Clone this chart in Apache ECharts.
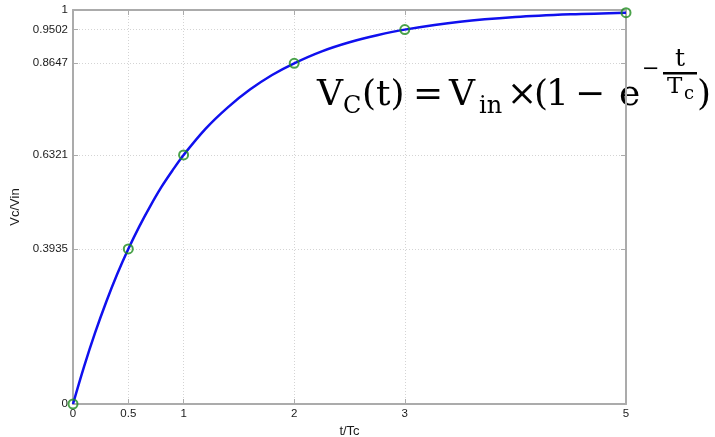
<!DOCTYPE html>
<html>
<head>
<meta charset="utf-8">
<script src="https://cdn.jsdelivr.net/npm/echarts@6/dist/echarts.min.js"></script>
<style>
  html, body { margin: 0; padding: 0; background: #fff; }
  #chart { width: 715px; height: 437px; }
</style>
</head>
<body>
<div id="chart"></div>
<script>
// Normalised time t/Tc and capacitor voltage Vc/Vin along the charging curve
const curveT = [0, 0.1, 0.2, 0.3, 0.4, 0.5, 0.6, 0.7, 0.8, 0.9, 1, 1.2, 1.4, 1.6, 1.8, 2, 2.25, 2.5, 2.75, 3, 3.5, 4, 4.5, 5];
const curveV = [0, 0.095, 0.181, 0.259, 0.330, 0.3935, 0.451, 0.503, 0.551, 0.593, 0.6321, 0.699, 0.753, 0.798, 0.835, 0.8647, 0.895, 0.918, 0.936, 0.9502, 0.970, 0.982, 0.989, 0.9933];

// Marked points on the curve
const markT = [0, 0.5, 1, 2, 3, 5];
const markV = [0, 0.3935, 0.6321, 0.8647, 0.9502, 0.9933];

// Axis ticks and their labels
const xTicks = [0, 0.5, 1, 2, 3, 5];
const xTickLabels = ['0', '0.5', '1', '2', '3', '5'];
const yTicks = [0, 0.3935, 0.6321, 0.8647, 0.9502, 1];
const yTickLabels = ['0', '0.3935', '0.6321', '0.8647', '0.9502', '1'];

const chart = echarts.init(document.getElementById('chart'), null, { renderer: 'canvas' });

const AXIS_GREY = '#ababab';
const GRID_GREY = '#d4d4d4';
const LABEL_FONT = 'Liberation Sans, Arial, sans-serif';

function labelFor(ticks, labels) {
  return function (v) {
    for (let i = 0; i < ticks.length; i++) {
      if (Math.abs(ticks[i] - v) < 1e-9) return labels[i];
    }
    return '';
  };
}

function makeAxis(kind, position, withLabels) {
  const ticks = kind === 'x' ? xTicks : yTicks;
  const labels = kind === 'x' ? xTickLabels : yTickLabels;
  return {
    type: 'value',
    position: position,
    min: 0,
    max: kind === 'x' ? 5 : 1,
    axisLine: { show: true, onZero: false, lineStyle: { color: AXIS_GREY, width: 2 } },
    axisTick: { show: true, inside: true, length: 5, customValues: ticks, lineStyle: { color: AXIS_GREY, width: 1 } },
    axisLabel: {
      show: withLabels,
      customValues: ticks,
      formatter: labelFor(ticks, labels),
      color: '#1a1a1a',
      fontFamily: LABEL_FONT,
      fontSize: 11.5,
      margin: kind === 'x' ? 4 : 5,
      hideOverlap: false
    },
    splitLine: {
      show: withLabels,
      lineStyle: { color: GRID_GREY, type: [1, 2], width: 1 }
    }
  };
}

const xBottom = makeAxis('x', 'bottom', true);
xBottom.name = 't/Tc';
xBottom.nameLocation = 'middle';
xBottom.nameGap = 17;
xBottom.nameTextStyle = { color: '#1a1a1a', fontFamily: LABEL_FONT, fontSize: 13 };
const xTop = makeAxis('x', 'top', false);

const yLeft = makeAxis('y', 'left', true);
yLeft.name = 'Vc/Vin';
yLeft.nameLocation = 'middle';
yLeft.nameGap = 45;
yLeft.nameTextStyle = { color: '#1a1a1a', fontFamily: LABEL_FONT, fontSize: 13 };
const yRight = makeAxis('y', 'right', false);

// ---- Formula V_C(t) = V_in x (1 - e^(-t/T_c)) ----
const FORMULA_FONT = '"DejaVu Serif", serif';
const F = 36;          // main formula size
const SUB = 24;        // subscript size
const BASE = 108;      // main baseline (px)
const SUB_BASE = 115;  // subscript baseline (px)
const MID = 0.346;     // height of the 'middle' line above the baseline, in em

function piece(str, x, size, baseline, align) {
  return {
    type: 'text',
    x: x,
    y: baseline - MID * size,
    silent: true,
    style: { text: str, font: size + 'px ' + FORMULA_FONT, fill: '#000', verticalAlign: 'middle', align: align || 'left' }
  };
}

const formulaParts = [
  piece('V', 317, F, BASE),
  piece('C', 343, SUB, SUB_BASE),
  piece('(t)', 362, F, BASE),
  piece('=', 413, F, BASE),
  piece('V', 449, F, BASE),
  piece('in', 479, SUB, SUB_BASE),
  piece('×', 507, F, BASE),
  piece('(', 534, F, BASE),
  piece('1', 546, F, BASE),
  piece('−', 575, F, BASE),
  piece('e', 619, F, BASE),
  // exponent: minus sign and the fraction t / T_c
  { type: 'text', x: 642, y: 70, silent: true,
    style: { text: '−', font: '21px ' + FORMULA_FONT, fill: '#000', verticalAlign: 'middle', align: 'left' } },
  { type: 'rect', silent: true, shape: { x: 663, y: 72, width: 34, height: 2.5 }, style: { fill: '#000' } },
  piece('t', 680, 25, 68, 'center'),
  piece('T', 667, 23, 95),
  piece('c', 684, 18, 101),
  piece(')', 697, F, BASE)
];

const option = {
  backgroundColor: '#ffffff',
  animation: false,
  grid: { left: 73, right: 89, top: 10, bottom: 33, containLabel: false, outerBoundsMode: 'none' },
  xAxis: [xBottom, xTop],
  yAxis: [yLeft, yRight],
  series: [
    {
      type: 'line',
      data: curveT.map((t, i) => [t, curveV[i]]),
      smooth: 0.35,
      showSymbol: false,
      symbol: 'none',
      lineStyle: { color: '#1010ee', width: 2.5 },
      z: 3
    },
    {
      type: 'scatter',
      data: markT.map((t, i) => [t, markV[i]]),
      symbol: 'circle',
      symbolSize: 9,
      itemStyle: { color: 'rgba(0,0,0,0)', borderColor: '#1e8c1e', borderWidth: 2 },
      z: 4
    }
  ],
  graphic: formulaParts
};

chart.setOption(option);
</script>
</body>
</html>
